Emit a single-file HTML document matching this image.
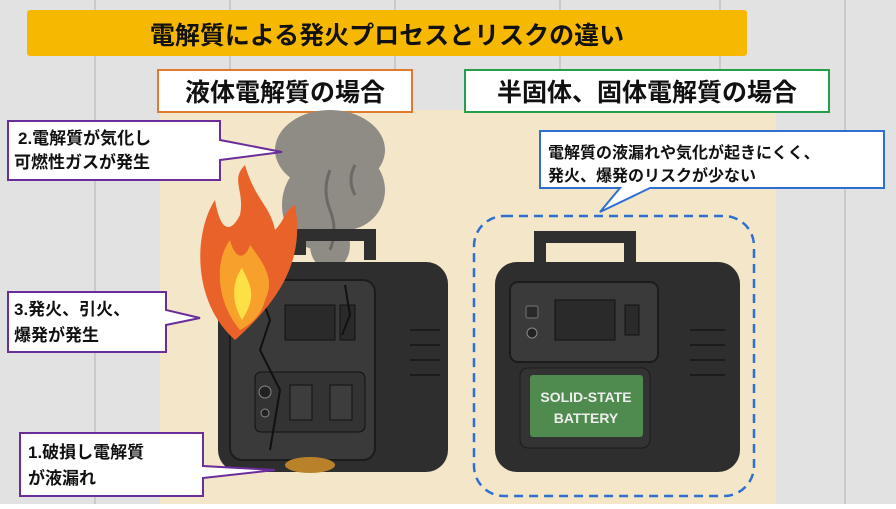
<!DOCTYPE html>
<html><head><meta charset="utf-8"><style>
body{margin:0;width:896px;height:504px;overflow:hidden;font-family:"Liberation Sans","Noto Sans CJK JP",sans-serif}
</style></head><body>
<svg width="896" height="504" viewBox="0 0 896 504" xmlns="http://www.w3.org/2000/svg" font-family="Liberation Sans, Noto Sans CJK JP, sans-serif" font-weight="bold">
<rect width="896" height="504" fill="#e2e2e2"/>
<g stroke="#cacaca" stroke-width="2">
<line x1="95" y1="0" x2="95" y2="504"/><line x1="230" y1="0" x2="230" y2="504"/><line x1="395" y1="0" x2="395" y2="504"/><line x1="560" y1="0" x2="560" y2="504"/><line x1="720" y1="0" x2="720" y2="504"/><line x1="845" y1="0" x2="845" y2="504"/>
</g>
<rect x="160" y="110" width="616" height="394" fill="#f4e6c8"/>
<rect x="27" y="10" width="720" height="46" rx="3" fill="#f6b800"/>
<text x="387" y="44" font-size="25" text-anchor="middle" fill="#111">電解質による発火プロセスとリスクの違い</text>
<rect x="158" y="70" width="254" height="42" fill="#fff" stroke="#e07a2e" stroke-width="2"/>
<text x="285" y="101" font-size="25" text-anchor="middle" fill="#111">液体電解質の場合</text>
<rect x="465" y="70" width="364" height="42" fill="#fff" stroke="#25a04a" stroke-width="2"/>
<text x="647" y="101" font-size="25" text-anchor="middle" fill="#111">半固体、固体電解質の場合</text>
<g fill="#8f8b85">
<ellipse cx="330" cy="150" rx="55" ry="40"/><ellipse cx="320" cy="205" rx="38" ry="45"/><ellipse cx="345" cy="190" rx="40" ry="40"/><ellipse cx="330" cy="245" rx="20" ry="25"/>
</g>
<g fill="none" stroke="#6c6964" stroke-width="3"><path d="M330 170 q-8 20 0 40 t0 40"/><path d="M355 165 q-8 15 0 30"/></g>
<path d="M300 255 v-20 h70 v25" fill="none" stroke="#2f2f2f" stroke-width="12"/>
<rect x="218" y="262" width="230" height="210" rx="22" fill="#2e2e2e"/>
<rect x="230" y="280" width="145" height="180" rx="12" fill="#3a3a3a" stroke="#1c1c1c" stroke-width="2"/>
<rect x="285" y="305" width="50" height="35" fill="#2a2a2a" stroke="#111"/>
<rect x="340" y="305" width="15" height="35" fill="#2a2a2a" stroke="#111"/>
<rect x="255" y="372" width="110" height="60" rx="6" fill="#333" stroke="#111"/>
<rect x="290" y="385" width="22" height="35" fill="#3d3d3d" stroke="#111"/><rect x="330" y="385" width="22" height="35" fill="#3d3d3d" stroke="#111"/>
<circle cx="265" cy="392" r="6" fill="#222" stroke="#888"/><circle cx="265" cy="413" r="4" fill="#222" stroke="#888"/>
<path d="M255 280 l15 40 -10 30 20 40 -10 60 M345 285 l5 30 -8 20" stroke="#111" stroke-width="2" fill="none"/>
<ellipse cx="310" cy="465" rx="25" ry="8" fill="#b9822a"/>
<path d="M235 340 C190 300 195 230 215 200 C220 230 230 235 240 215 C245 190 230 180 245 165 C255 200 270 205 275 230 C285 220 285 210 295 205 C305 260 280 300 235 340Z" fill="#e8622a"/>
<path d="M240 330 C215 300 215 260 230 240 C235 260 245 260 250 245 C265 265 275 280 265 300 C262 315 250 325 240 330Z" fill="#f7a12c"/>
<path d="M242 320 C230 300 233 280 242 268 C250 285 258 295 242 320Z" fill="#fde045"/>
<path d="M540 262 v-25 h90 v25" fill="none" stroke="#2f2f2f" stroke-width="12"/>
<rect x="495" y="262" width="245" height="210" rx="22" fill="#2e2e2e"/>
<rect x="510" y="282" width="148" height="80" rx="8" fill="#3a3a3a" stroke="#1c1c1c" stroke-width="2"/>
<rect x="555" y="300" width="60" height="40" fill="#2a2a2a" stroke="#111"/>
<rect x="625" y="305" width="14" height="30" fill="#2a2a2a" stroke="#111"/>
<rect x="526" y="306" width="12" height="12" rx="2" fill="#2a2a2a" stroke="#777"/><circle cx="532" cy="333" r="5" fill="#222" stroke="#888"/>
<rect x="520" y="368" width="130" height="80" rx="8" fill="#333" stroke="#1c1c1c"/>
<rect x="530" y="375" width="113" height="62" rx="3" fill="#4f8a4e"/>
<text x="586" y="402" font-size="14" text-anchor="middle" fill="#eee">SOLID-STATE</text>
<text x="586" y="423" font-size="14" text-anchor="middle" fill="#eee">BATTERY</text>
<g stroke="#1c1c1c" stroke-width="2"><line x1="690" y1="330" x2="725" y2="330"/><line x1="690" y1="345" x2="725" y2="345"/><line x1="690" y1="360" x2="725" y2="360"/><line x1="690" y1="375" x2="725" y2="375"/><line x1="410" y1="330" x2="440" y2="330"/><line x1="410" y1="345" x2="440" y2="345"/><line x1="410" y1="360" x2="440" y2="360"/><line x1="410" y1="375" x2="440" y2="375"/></g>
<rect x="474" y="216" width="280" height="280" rx="30" fill="none" stroke="#2f6fd0" stroke-width="2.5" stroke-dasharray="9 6"/>
<path d="M8 121 H220 V140 L282 152 L220 160 V180 H8Z" fill="#fff" stroke="#6a2d9a" stroke-width="2"/>
<text x="18" y="144" font-size="17" fill="#111">2.電解質が気化し</text>
<text x="14" y="168" font-size="17" fill="#111">可燃性ガスが発生</text>
<path d="M8 292 H166 V310 L200 318 L166 325 V352 H8Z" fill="#fff" stroke="#6a2d9a" stroke-width="2"/>
<text x="14" y="315" font-size="17" fill="#111">3.発火、引火、</text>
<text x="14" y="341" font-size="17" fill="#111">爆発が発生</text>
<path d="M20 433 H203 V466 L275 470 L203 478 V496 H20Z" fill="#fff" stroke="#6a2d9a" stroke-width="2"/>
<text x="28" y="458" font-size="17" fill="#111">1.破損し電解質</text>
<text x="28" y="484" font-size="17" fill="#111">が液漏れ</text>
<path d="M540 131 H884 V188 H650 L600 212 L620 188 H540Z" fill="#fff" stroke="#2f6fd0" stroke-width="2"/>
<text x="548" y="158" font-size="16" fill="#111">電解質の液漏れや気化が起きにくく、</text>
<text x="548" y="181" font-size="16" fill="#111">発火、爆発のリスクが少ない</text>
</svg>
</body></html>
